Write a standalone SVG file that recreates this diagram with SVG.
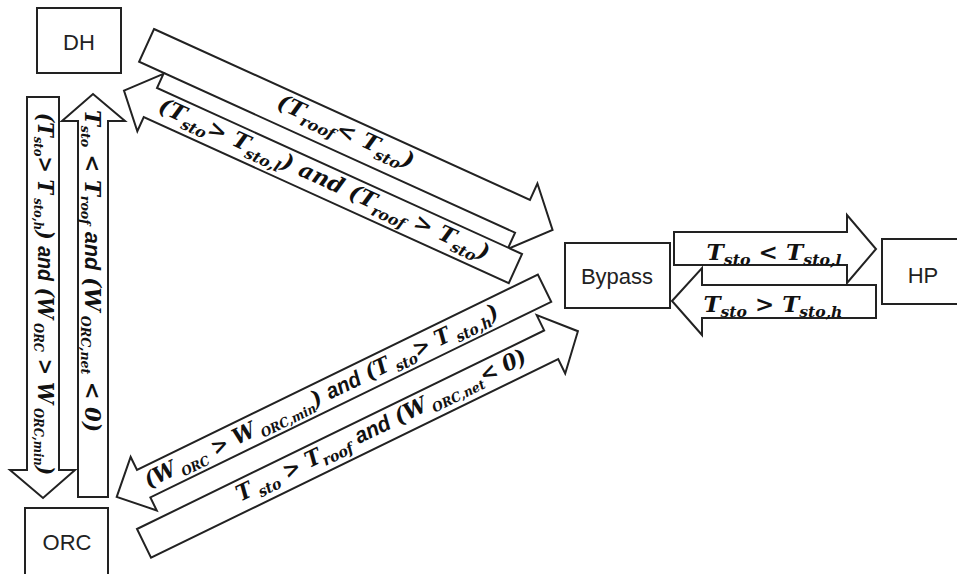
<svg xmlns="http://www.w3.org/2000/svg" width="957" height="574" viewBox="0 0 957 574">
<style>
.box{fill:#fff;stroke:#222;stroke-width:2}
.arr{fill:#fff;stroke:#222;stroke-width:2;stroke-linejoin:miter}
.lbl{font-family:"Liberation Sans",Arial,sans-serif;font-size:22px;fill:#222;text-anchor:middle}
.m{font-family:"DejaVu Serif",serif;font-weight:bold;font-style:italic;font-size:22px;fill:#111;text-anchor:middle}
.s{font-size:15px}
.ss{font-size:13px}
.a{font-family:"Liberation Sans",Arial,sans-serif;font-weight:bold;font-style:italic}
</style>
<rect width="957" height="574" fill="#fff"/>

<g id="DH"><rect class="box" x="37" y="8" width="84" height="65"/><text class="lbl" x="79" y="50">DH</text></g>
<g id="ORC"><rect class="box" x="25" y="508" width="83" height="70"/><text class="lbl" x="67" y="550">ORC</text></g>
<g id="Bypass"><rect class="box" x="565" y="243" width="105" height="65"/><text class="lbl" x="617" y="284">Bypass</text></g>
<g id="HP"><rect class="box" x="882" y="239" width="90" height="65"/><text class="lbl" x="923" y="283">HP</text></g>

<g id="connectors">
  <g id="dh-bypass" transform="translate(154,29) rotate(24.45)">
    <polygon class="arr" points="0,0 413,0 413,-18 446,18 413,54 413,36 0,36"/>
    <text class="m" x="217" y="21" textLength="148" lengthAdjust="spacingAndGlyphs">(T<tspan class="s" dy="6">roof</tspan><tspan dy="-6">&lt; T</tspan><tspan class="s" dy="6">sto</tspan><tspan dy="-6">)</tspan></text>
  </g>
  <g id="bypass-dh" transform="translate(157,88) rotate(24.45)">
    <polygon class="arr" points="-29,16 0,-15.5 0,0 401,0 401,32 0,32 0,47.5"/>
    <text class="m" x="190" y="21" textLength="361" lengthAdjust="spacingAndGlyphs">(T<tspan class="s" dy="6">sto</tspan><tspan dy="-6">&gt; T</tspan><tspan class="s" dy="6">sto,l</tspan><tspan dy="-6">) and (T</tspan><tspan class="s" dy="6">roof</tspan><tspan dy="-6"> &gt; T</tspan><tspan class="s" dy="6">sto</tspan><tspan dy="-6">)</tspan></text>
  </g>
  <g id="bypass-orc" transform="translate(137,470) rotate(-26)">
    <polygon class="arr" points="-30,15.25 0,-14.5 0,0 446,0 446,30.5 0,30.5 0,45"/>
    <text class="m" x="198" y="21.5" textLength="391" lengthAdjust="spacingAndGlyphs">(W<tspan class="ss" dy="5"> ORC</tspan><tspan dy="-5"> &gt; W</tspan><tspan class="ss" dy="5"> ORC,min</tspan><tspan dy="-5">) </tspan><tspan class="a">and</tspan><tspan> (T</tspan><tspan class="s" dy="5"> sto</tspan><tspan dy="-5">&gt; T</tspan><tspan class="s" dy="5"> sto,h</tspan><tspan dy="-5">)</tspan></text>
  </g>
  <g id="orc-bypass" transform="translate(137,529) rotate(-26)">
    <polygon class="arr" points="0,0 453,0 453,-17 483,15.5 453,48 453,32 0,32"/>
    <text class="m" x="265" y="21" textLength="320" lengthAdjust="spacingAndGlyphs">T<tspan class="s" dy="5"> sto</tspan><tspan dy="-5"> &gt; T</tspan><tspan class="s" dy="5">roof</tspan><tspan dy="-5"> </tspan><tspan class="a">and</tspan><tspan> (W</tspan><tspan class="ss" dy="5"> ORC,net</tspan><tspan dy="-5">&lt; 0)</tspan></text>
  </g>
  <g id="dh-orc">
    <polygon class="arr" points="27,97 59,97 59,470 75,470 43,498 10,470 27,470"/>
    <text class="m" transform="translate(38,294) rotate(90)" x="0" y="0" textLength="362" lengthAdjust="spacingAndGlyphs">(T<tspan class="ss" dy="4">sto</tspan><tspan dy="-4">&gt; T</tspan><tspan class="ss" dy="4"> sto,h</tspan><tspan dy="-4">) </tspan><tspan class="a">and</tspan><tspan> (W</tspan><tspan class="ss" dy="4"> ORC</tspan><tspan dy="-4"> &gt; W</tspan><tspan class="ss" dy="4"> ORC,min</tspan><tspan dy="-4">)</tspan></text>
  </g>
  <g id="orc-dh">
    <polygon class="arr" points="78,497 108,497 108,121 125,121 93,94 62,121 78,121"/>
    <text class="m" transform="translate(85,271) rotate(90)" x="0" y="0" textLength="322" lengthAdjust="spacingAndGlyphs">T<tspan class="ss" dy="4">sto</tspan><tspan dy="-4"> &lt; T</tspan><tspan class="ss" dy="4">roof</tspan><tspan dy="-4"> </tspan><tspan class="a">and</tspan><tspan> (W</tspan><tspan class="ss" dy="4"> ORC,net</tspan><tspan dy="-4"> &lt; 0)</tspan></text>
  </g>
  <g id="bypass-hp">
    <polygon class="arr" points="674,232 847,232 847,215 876,249 847,283 847,265 674,265"/>
    <text class="m" x="774" y="260" textLength="135" lengthAdjust="spacingAndGlyphs">T<tspan class="s" dy="5">sto</tspan><tspan dy="-5"> &lt; T</tspan><tspan class="s" dy="5">sto,l</tspan></text>
  </g>
  <g id="hp-bypass">
    <polygon class="arr" points="672,301 702,268 702,285 876,285 876,318 702,318 702,335"/>
    <text class="m" x="773" y="312" textLength="139" lengthAdjust="spacingAndGlyphs">T<tspan class="s" dy="5">sto</tspan><tspan dy="-5"> &gt; T</tspan><tspan class="s" dy="5">sto,h</tspan></text>
  </g>
</g>
</svg>
